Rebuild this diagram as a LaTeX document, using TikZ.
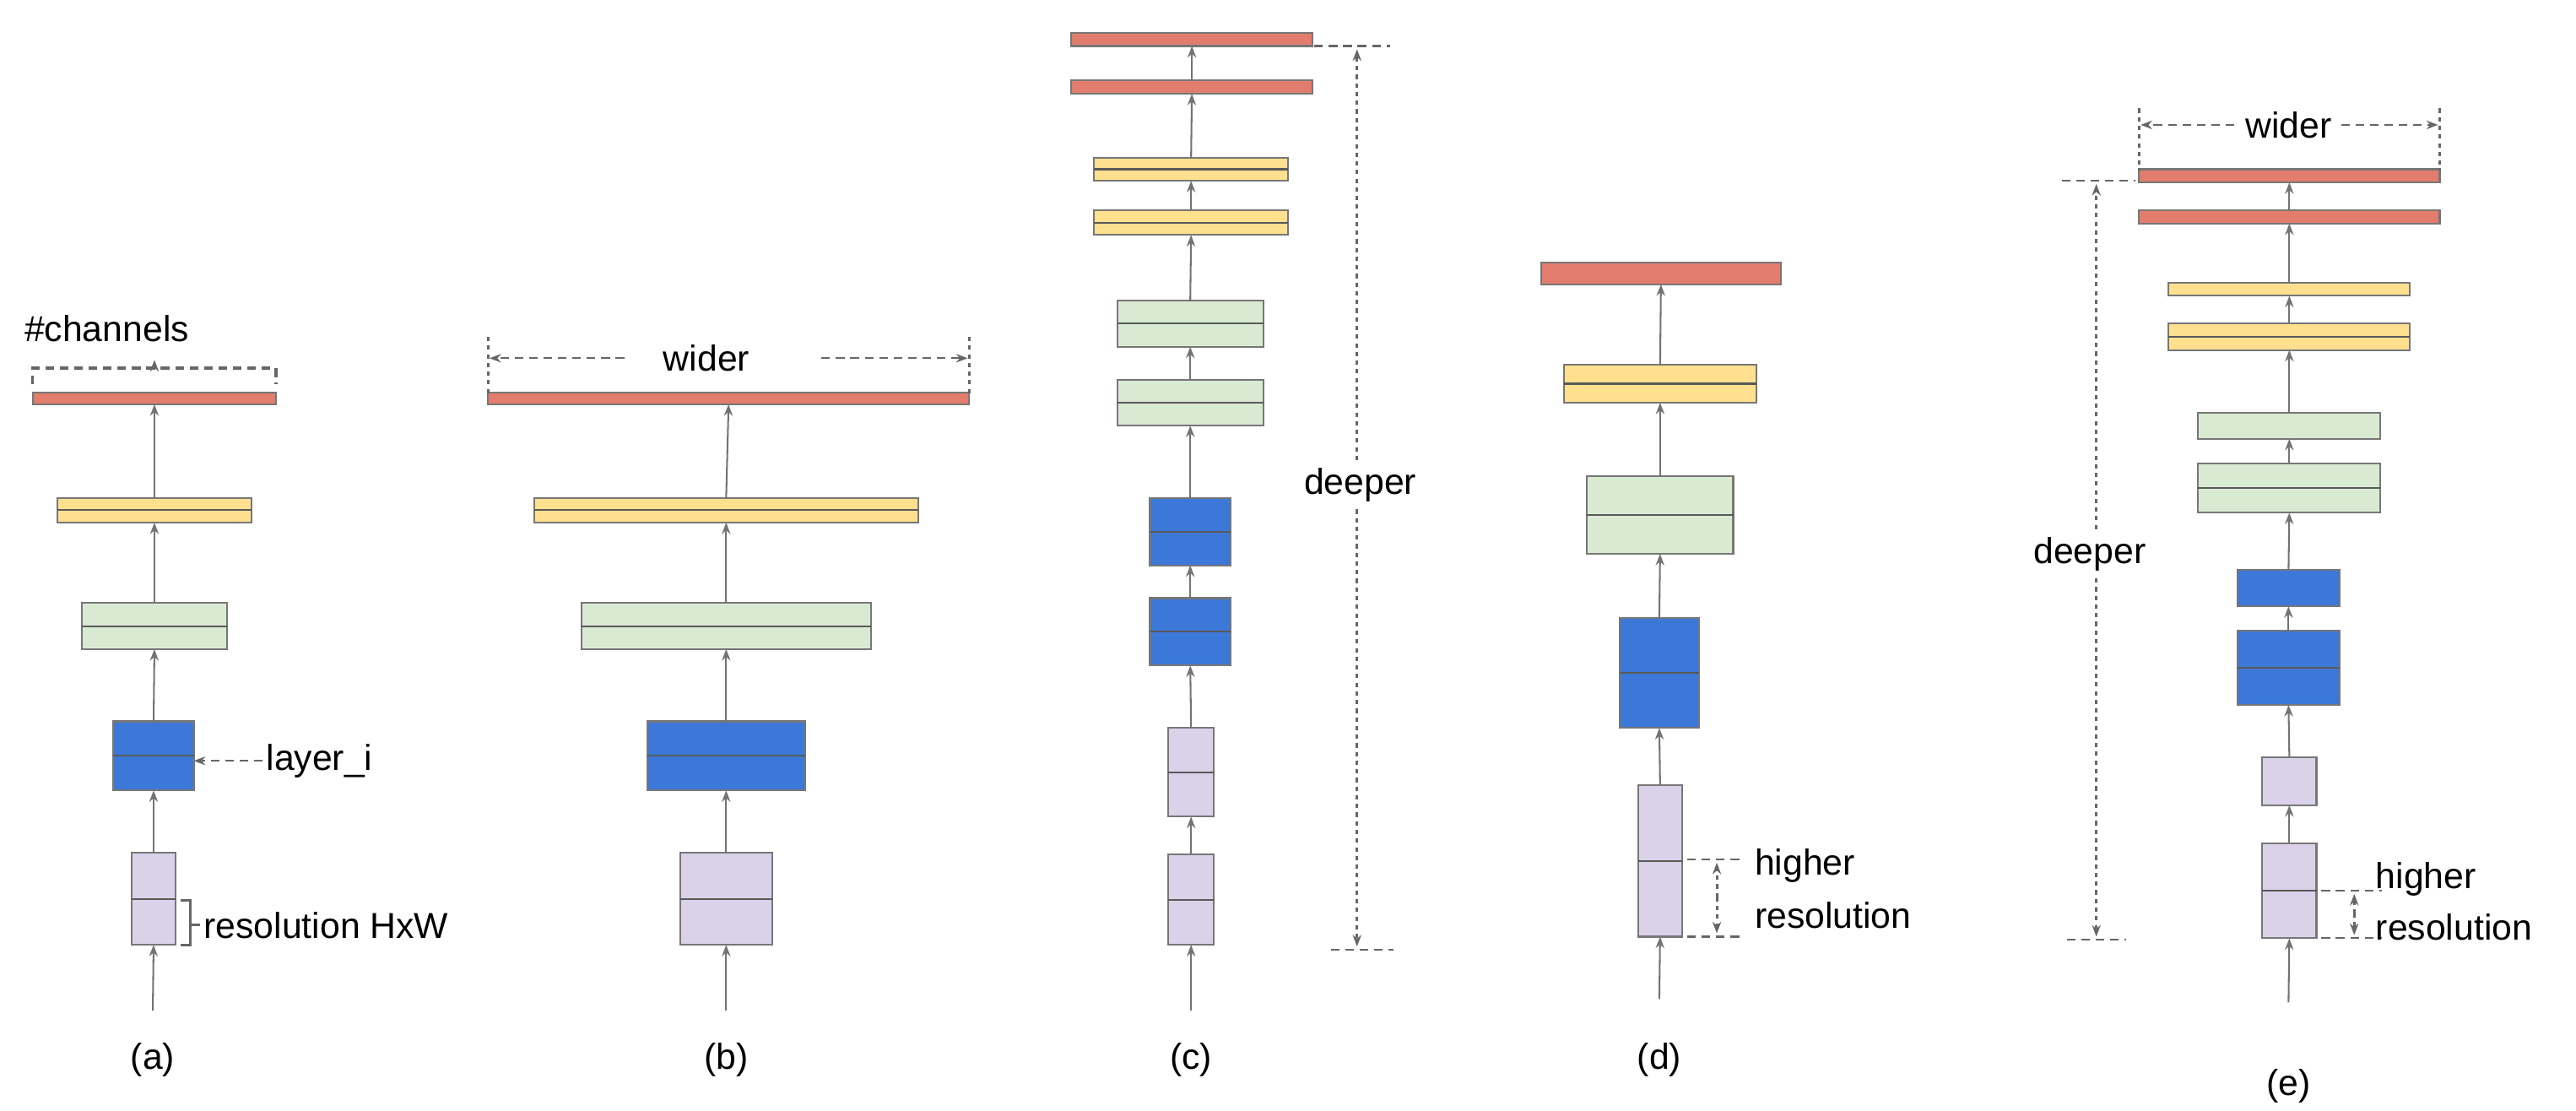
\documentclass[tikz,border=0pt]{standalone}
\usepackage{fontspec}
\setmainfont{Liberation Sans}
\usetikzlibrary{arrows.meta}
\definecolor{cred}{HTML}{E27C6C}
\definecolor{cyel}{HTML}{FFE08F}
\definecolor{cgrn}{HTML}{D9EAD3}
\definecolor{cblu}{HTML}{3C78D8}
\definecolor{cpur}{HTML}{D9D2E9}
\definecolor{cedge}{HTML}{777777}
\tikzset{
 blk/.style={draw=cedge,line width=0.6pt,inner sep=0pt,outer sep=0pt},
 mid/.style={draw=black!65,line width=0.6pt},
 conn/.style={draw=black!55,line width=0.6pt,-{Stealth[length=4pt,width=3pt]}},
 ann/.style={draw=black!60,line width=0.6pt,dash pattern=on 3pt off 2pt},
 annd/.style={draw=black!60,line width=0.9pt,dash pattern=on 1.5pt off 1.5pt},
 tip/.style={-{Stealth[length=4pt,width=3pt]}},
 lbl/.style={font=\fontsize{12.5}{14}\selectfont,inner sep=1pt},
}
\newcommand\blk[7]{%
 \pgfmathsetmacro\bw{(#5-#3)*0.02}\pgfmathsetmacro\bh{(#6-#4)*0.02}%
 \node[blk,fill=#2,minimum width=\bw cm,minimum height=\bh cm] (#1) at ({(#3+#5)/2},{(#4+#6)/2}) {};%
 \ifnum#7=1 \draw[mid] (#1.west)--(#1.east);\fi}
\begin{document}
\begin{tikzpicture}[x=0.02cm,y=-0.02cm]
\useasboundingbox (0,0) rectangle (1568,676);
% ---------- (a)
\blk{ar}{cred}{20}{239}{168}{246}{0}
\blk{ay}{cyel}{35}{303}{153}{318}{1}
\blk{ag}{cgrn}{50}{367}{138}{395}{1}
\blk{ab}{cblu}{69}{439}{118}{481}{1}
\blk{ap}{cpur}{80}{519}{107}{575}{1}
\coordinate (ain) at (93,615);
\draw[conn] (ain)--(ap.south);
\draw[conn] (ap.north)--(ab.south);
\draw[conn] (ab.north)--(ag.south);
\draw[conn] (ag.north)--(ay.south);
\draw[conn] (ay.north)--(ar.south);
\node[lbl] (chan) at (65,200) {\#channels};
\draw[ann,line width=0.9pt] (20,234)--(20,224)--(168,224)--(168,234);
\draw[ann,line width=0.9pt,tip] (94,224)--(94,219);
\node[lbl,anchor=west] (layer) at (160,463) {layer\_i};
\draw[ann,tip] (layer.west)--(ab.east|-layer.west);
\draw[draw=black!60,line width=0.9pt] (110,548)--(116,548)--(116,575)--(110,575);
\node[lbl,anchor=west] (res) at (122,563) {resolution HxW};
\draw[draw=black!60,line width=0.9pt] (116,563)--(res.west);
\node[lbl] (la) at (93,645) {(a)};
% ---------- (b)
\blk{br}{cred}{297}{239}{590}{246}{0}
\blk{by}{cyel}{325}{303}{559}{318}{1}
\blk{bg}{cgrn}{354}{367}{530}{395}{1}
\blk{bb}{cblu}{394}{439}{490}{481}{1}
\blk{bp}{cpur}{414}{519}{470}{575}{1}
\coordinate (bin) at (442,615);
\draw[conn] (bin)--(bp.south);
\draw[conn] (bp.north)--(bb.south);
\draw[conn] (bb.north)--(bg.south);
\draw[conn] (bg.north)--(by.south);
\draw[conn] (by.north)--(br.south);
\draw[annd] (297,205)--(297,240); \draw[annd] (590,205)--(590,240);
\node[lbl] (bw) at (430,218) {wider};
\draw[ann,tip] (380,218)--(298,218);
\draw[ann,tip] (500,218)--(589,218);
\node[lbl] (lb) at (442,645) {(b)};
% ---------- (c)
\blk{cr2}{cred}{652}{20}{799}{28}{0}
\blk{cr1}{cred}{652}{49}{799}{57}{0}
\blk{cy2}{cyel}{666}{96}{784}{110}{1}
\blk{cy1}{cyel}{666}{128}{784}{143}{1}
\blk{cg2}{cgrn}{680}{183}{769}{211}{1}
\blk{cg1}{cgrn}{680}{231}{769}{259}{1}
\blk{cb2}{cblu}{700}{303}{749}{344}{1}
\blk{cb1}{cblu}{700}{364}{749}{405}{1}
\blk{cp2}{cpur}{711}{443}{739}{497}{1}
\blk{cp1}{cpur}{711}{520}{739}{575}{1}
\coordinate (cin) at (725,615);
\draw[conn] (cin)--(cp1.south);
\draw[conn] (cp1.north)--(cp2.south);
\draw[conn] (cp2.north)--(cb1.south);
\draw[conn] (cb1.north)--(cb2.south);
\draw[conn] (cb2.north)--(cg1.south);
\draw[conn] (cg1.north)--(cg2.south);
\draw[conn] (cg2.north)--(cy1.south);
\draw[conn] (cy1.north)--(cy2.south);
\draw[conn] (cy2.north)--(cr1.south);
\draw[conn] (cr1.north)--(cr2.south);
\draw[ann] (800,28)--(846,28); \draw[ann] (810,578)--(848,578);
\node[lbl] (cd) at (828,295) {deeper};
\draw[annd,tip] (826,280)--(826,30);
\draw[annd,tip] (826,310)--(826,576);
\node[lbl] (lc) at (725,645) {(c)};
% ---------- (d)
\blk{dr}{cred}{938}{160}{1084}{173}{0}
\blk{dy}{cyel}{952}{222}{1069}{245}{1}
\blk{dg}{cgrn}{966}{290}{1055}{337}{1}
\blk{db}{cblu}{986}{376}{1034}{443}{1}
\blk{dp}{cpur}{997}{478}{1024}{570}{1}
\coordinate (din) at (1010,608);
\draw[conn] (din)--(dp.south);
\draw[conn] (dp.north)--(db.south);
\draw[conn] (db.north)--(dg.south);
\draw[conn] (dg.north)--(dy.south);
\draw[conn] (dy.north)--(dr.south);
\draw[ann] (1027,523)--(1062,523); \draw[ann] (1027,570)--(1062,570);
\draw[annd,tip] (1045,546)--(1045,525); \draw[annd,tip] (1045,546)--(1045,568);
\node[lbl,anchor=west] (dh) at (1066,527) {higher};
\node[lbl,anchor=west] (dres) at (1066,557) {resolution};
\node[lbl] (ld) at (1010,645) {(d)};
% ---------- (e)
\blk{er2}{cred}{1302}{103}{1485}{111}{0}
\blk{er1}{cred}{1302}{128}{1485}{136}{0}
\blk{ey2}{cyel}{1320}{172}{1467}{180}{0}
\blk{ey1}{cyel}{1320}{197}{1467}{213}{1}
\blk{eg2}{cgrn}{1338}{251}{1449}{267}{0}
\blk{eg1}{cgrn}{1338}{282}{1449}{312}{1}
\blk{eb2}{cblu}{1362}{347}{1424}{369}{0}
\blk{eb1}{cblu}{1362}{384}{1424}{429}{1}
\blk{ep2}{cpur}{1377}{461}{1410}{490}{0}
\blk{ep1}{cpur}{1377}{513}{1410}{571}{1}
\coordinate (ein) at (1393,610);
\draw[conn] (ein)--(ep1.south);
\draw[conn] (ep1.north)--(ep2.south);
\draw[conn] (ep2.north)--(eb1.south);
\draw[conn] (eb1.north)--(eb2.south);
\draw[conn] (eb2.north)--(eg1.south);
\draw[conn] (eg1.north)--(eg2.south);
\draw[conn] (eg2.north)--(ey1.south);
\draw[conn] (ey1.north)--(ey2.south);
\draw[conn] (ey2.north)--(er1.south);
\draw[conn] (er1.north)--(er2.south);
\draw[annd] (1302,66)--(1302,104); \draw[annd] (1485,66)--(1485,104);
\node[lbl] (ew) at (1393,76) {wider};
\draw[ann,tip] (1360,76)--(1303,76);
\draw[ann,tip] (1425,76)--(1484,76);
\draw[ann] (1255,110)--(1300,110); \draw[ann] (1258,572)--(1294,572);
\node[lbl] (ed) at (1272,337) {deeper};
\draw[annd,tip] (1276,322)--(1276,112);
\draw[annd,tip] (1276,352)--(1276,570);
\draw[ann] (1413,542)--(1450,542); \draw[ann] (1413,571)--(1450,571);
\draw[annd,tip] (1433,556)--(1433,544); \draw[annd,tip] (1433,556)--(1433,569);
\node[lbl,anchor=west] (eh) at (1444,535) {higher};
\node[lbl,anchor=west] (eres) at (1444,564) {resolution};
\node[lbl] (le) at (1393,661) {(e)};
\end{tikzpicture}
\end{document}
